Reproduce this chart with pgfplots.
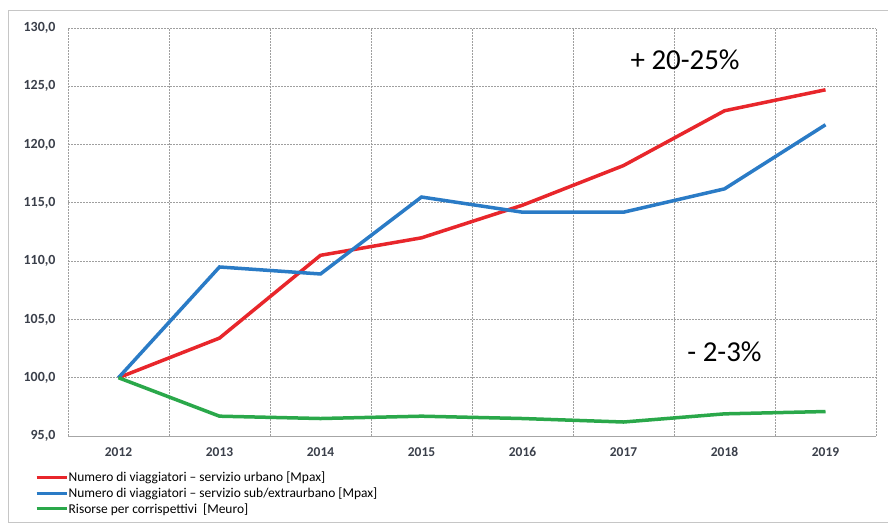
\documentclass[border=0pt]{standalone}
\usepackage{pgfplots}
\pgfplotsset{compat=1.18}
\usepackage{fontspec}
\setmainfont{Carlito}
\definecolor{cred}{HTML}{E8262B}
\definecolor{cblue}{HTML}{2A7BC6}
\definecolor{cgreen}{HTML}{2AA84A}
\definecolor{ctick}{HTML}{3A3F4A}
\begin{document}
\begin{tikzpicture}[x=1bp,y=1bp]
\useasboundingbox (0,0) rectangle (888,-526);
\fill[white] (0,0) rectangle (888,-526);
\draw[gray!45, line width=1bp] (8,-11) -- (895,-11);
\draw[gray!45, line width=1bp] (8,-11) -- (8,-522) -- (895,-522);
\begin{axis}[
  at={(68bp,-436bp)}, anchor=south west,
  scale only axis, width=808bp, height=408bp,
  xmin=-0.5, xmax=7.5, ymin=95, ymax=130,
  xtick={0,...,7},
  xticklabels={2012,2013,2014,2015,2016,2017,2018,2019},
  minor xtick={-0.5,0.5,...,7.5},
  ytick={95,100,...,130},
  yticklabels={{95,0},{100,0},{105,0},{110,0},{115,0},{120,0},{125,0},{130,0}},
  axis x line*=bottom, axis y line*=left,
  x axis line style={-, gray!70, line width=0.8bp},
  y axis line style={draw=none},
  ymajorgrids, xminorgrids,
  grid style={dash pattern=on 1.8bp off 1.2bp, gray!75, line width=0.8bp},
  minor grid style={dash pattern=on 1.8bp off 1.2bp, gray!75, line width=0.8bp},
  major tick length=0pt,
  minor tick length=4bp,
  tick align=outside,
  minor x tick style={gray!70, line width=0.8bp},
  ytick style={draw=none},
  xtick style={draw=none},
  ticklabel style={font=\fontsize{13.5}{15}\selectfont\bfseries, text=ctick},
  xticklabel style={yshift=-8bp},
  yticklabel style={xshift=-9bp, font=\fontsize{14}{15}\selectfont\bfseries},
  legend style={at={(-0.0446,-0.082)}, anchor=north west, draw=none, fill=none,
    font=\fontsize{13.5}{15}\selectfont, row sep=4.6bp,
    nodes={inner xsep=0.5bp, inner ysep=0bp}},
  legend cell align=left,
  legend image code/.code={\draw[#1, line width=3bp] (0bp,0bp) -- (30bp,0bp);},
  clip=false,
]
\addplot[cred, line width=3.5bp] coordinates {(0,100) (1,103.4) (2,110.5) (3,112.0) (4,114.8) (5,118.2) (6,122.9) (7,124.7)};
\addlegendentry{Numero di viaggiatori -- servizio urbano [Mpax]}
\addplot[cblue, line width=3.5bp] coordinates {(0,100) (1,109.5) (2,108.9) (3,115.5) (4,114.2) (5,114.2) (6,116.2) (7,121.7)};
\addlegendentry{Numero di viaggiatori -- servizio sub/extraurbano [Mpax]}
\addplot[cgreen, line width=3.5bp] coordinates {(0,100) (1,96.7) (2,96.5) (3,96.7) (4,96.5) (5,96.2) (6,96.9) (7,97.1)};
\addlegendentry{Risorse per corrispettivi\ \ [Meuro]}
\node[font=\fontsize{29}{30}\selectfont, anchor=center] at (axis cs:5.61,127.3) {+ 20-25\%};
\node[font=\fontsize{29}{30}\selectfont, anchor=center] at (axis cs:6.0,102.2) {- 2-3\%};
\end{axis}
\end{tikzpicture}
\end{document}
